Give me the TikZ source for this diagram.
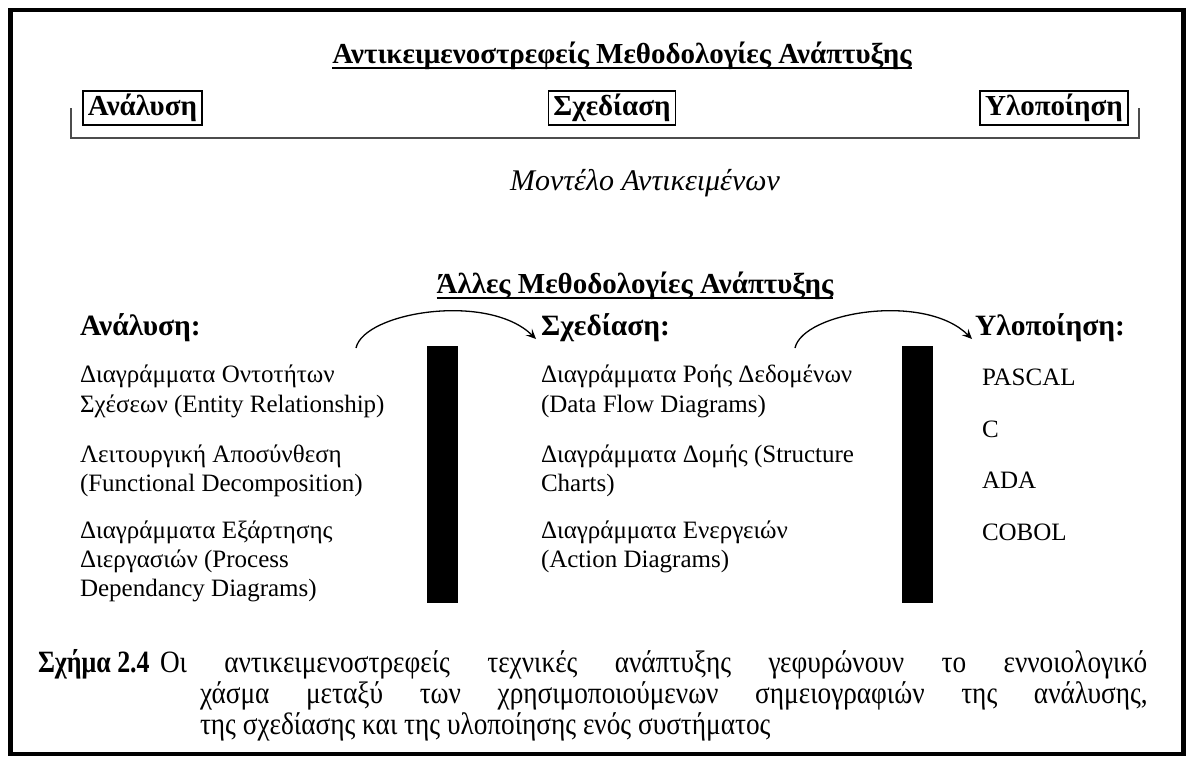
\documentclass[tikz,border=0pt]{standalone}
\usepackage{fontspec}
\setmainfont{Liberation Serif}
\usetikzlibrary{arrows.meta}
\begin{document}
\begin{tikzpicture}[x=1pt,y=-1pt,
  every node/.style={inner sep=0pt, outer sep=0pt},
  txt/.style={anchor=base west, font=\fontsize{25}{29}\selectfont},
  head/.style={anchor=base west, font=\fontsize{29.5}{32}\selectfont\bfseries},
  ttl/.style={anchor=base, font=\fontsize{29}{32}\selectfont\bfseries},
  phase/.style={draw, line width=1.3pt, inner xsep=5pt, minimum height=34pt,
    font=\fontsize{29}{32}\selectfont\bfseries},
  capt/.style={anchor=base west, font=\fontsize{31}{31}\selectfont,
    xscale=0.88, transform shape},
  uline/.style={line width=2.6pt},
  bracket/.style={draw=black!70, line width=1.3pt},
  flow/.style={line width=1.3pt, -{Stealth[length=10pt,width=9pt,inset=4pt]}},
  frame/.style={line width=4.5pt},
]
\useasboundingbox (0,0) rectangle (1186,756);
\draw[frame] (10.5,10) rectangle (1183.5,754);

% --- object-oriented methodologies ---
\node[ttl] (ootitle) at (622,63) {Αντικειμενοστρεφείς Μεθοδολογίες Ανάπτυξης};
\draw[uline] ([yshift=-5pt]ootitle.base west) -- ([yshift=-5pt]ootitle.base east);

\node[phase] (ooan) at (142.5,108) {Ανάλυση};
\node[phase] (oode) at (612,108) {Σχεδίαση};
\node[phase] (ooim) at (1054,108) {Υλοποίηση};

\coordinate (brl) at (71,108);
\coordinate (brr) at (1139,108);
\draw[bracket] (brl) -- (71,138) -- (1139,138) -- (brr);

\node[anchor=base, font=\fontsize{30}{36}\selectfont\itshape] (model) at (645,190) {Μοντέλο Αντικειμένων};

% --- other methodologies ---
\node[ttl] (othtitle) at (635,293) {Άλλες Μεθοδολογίες Ανάπτυξης};
\draw[uline] ([yshift=-5pt]othtitle.base west) -- ([yshift=-5pt]othtitle.base east);

\node[head] (han) at (80,335) {Ανάλυση:};
\node[head] (hde) at (541,335) {Σχεδίαση:};
\node[head] (him) at (975,335) {Υλοποίηση:};

% analysis column
\node[txt] (a1a) at (80,382) {Διαγράμματα Οντοτήτων};
\node[txt] (a1b) at (80,412) {Σχέσεων (Entity Relationship)};
\node[txt] (a2a) at (80,462) {Λειτουργική Αποσύνθεση};
\node[txt] (a2b) at (80,491) {(Functional Decomposition)};
\node[txt] (a3a) at (80,538) {Διαγράμματα Εξάρτησης};
\node[txt] (a3b) at (80,567) {Διεργασιών (Process};
\node[txt] (a3c) at (80,596) {Dependancy Diagrams)};

% design column
\node[txt] (d1a) at (541,382) {Διαγράμματα Ροής Δεδομένων};
\node[txt] (d1b) at (541,412) {(Data Flow Diagrams)};
\node[txt] (d2a) at (541,462) {Διαγράμματα Δομής (Structure};
\node[txt] (d2b) at (541,491) {Charts)};
\node[txt] (d3a) at (541,538) {Διαγράμματα Ενεργειών};
\node[txt] (d3b) at (541,567) {(Action Diagrams)};

% implementation column
\node[txt] (i1) at (982,385) {PASCAL};
\node[txt] (i2) at (982,437) {C};
\node[txt] (i3) at (982,488) {ADA};
\node[txt] (i4) at (982,540) {COBOL};

% gaps between the notations
\fill (427,346) rectangle (458,603);
\fill (902,346) rectangle (933,603);

% transitions between phases
\coordinate (s1) at (356,348);
\coordinate (s2) at (795,348);
\draw[flow] (s1) .. controls (364,312) and (488,292) .. ([shift={(-5pt,-4pt)}]hde.base west);
\draw[flow] (s2) .. controls (803,312) and (925,292) .. ([shift={(-3pt,-4pt)}]him.base west);

% caption
\node[capt, font=\fontsize{31}{31}\selectfont\bfseries, xscale=0.95] (capnum) at (38,672) {Σχήμα 2.4};
\node[capt] (cap1) at (160,672) {\makebox[1122pt][s]{Οι αντικειμενοστρεφείς τεχνικές ανάπτυξης γεφυρώνουν το εννοιολογικό}};
\node[capt] (cap2) at (200,703) {\makebox[1077pt][s]{χάσμα μεταξύ των χρησιμοποιούμενων σημειογραφιών της ανάλυσης,}};
\node[capt] (cap3) at (200,734) {της σχεδίασης και της υλοποίησης ενός συστήματος};
\end{tikzpicture}
\end{document}
